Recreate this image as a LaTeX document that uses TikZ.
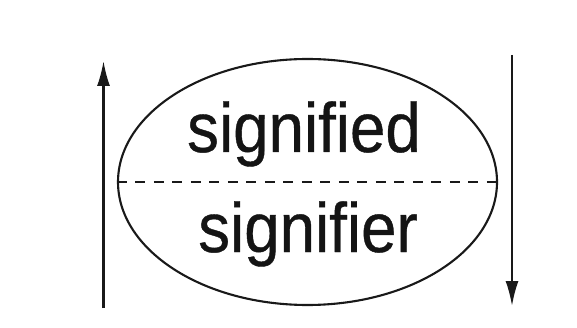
\documentclass[tikz,border=0pt]{standalone}
\usepackage{fontspec}
\usepackage{graphicx}
\setmainfont{Liberation Sans}
\newfontfamily\heavysans[FakeBold=0.6]{Liberation Sans}
\usetikzlibrary{arrows.meta,shapes.geometric}
\begin{document}
\begin{tikzpicture}[x=1pt,y=-1pt,
  line/.style={draw=black!90, line width=2.1pt},
  bigtext/.style={anchor=base, inner sep=0pt, text=black!92},
  arr/.style={line, -{Latex[length=25pt,width=13pt]}},
]
\useasboundingbox (0,0) rectangle (577,328);
\node[line, ellipse, minimum width=379pt, minimum height=246pt, inner sep=0pt] (ell) at (307.5,182) {};
\draw[draw=black!90, line width=1.8pt, dash pattern=on 10pt off 8.5pt] (ell.west) -- (ell.east);
\node[bigtext] (sd) at (304,152) {\scalebox{0.91}[1]{\heavysans\fontsize{70}{70}\selectfont signified}};
\node[bigtext] (sr) at (308,252) {\scalebox{0.91}[1]{\heavysans\fontsize{70}{70}\selectfont signifier}};
\coordinate (lb) at (103.5,308);
\coordinate (lt) at (103.5,61);
\coordinate (rt) at (512,55);
\coordinate (rb) at (512,306);
\draw[arr] (lb) -- (lt);
\draw[arr] (rt) -- (rb);
\end{tikzpicture}
\end{document}
